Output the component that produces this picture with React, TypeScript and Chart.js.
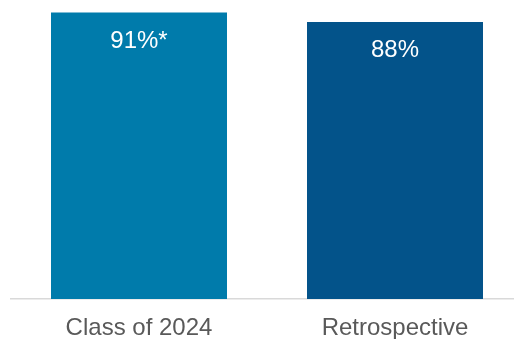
import React, { useEffect, useRef } from "react";
import { Chart, registerables } from "chart.js";

Chart.register(...registerables);

const categories = ["Class of 2024", "Retrospective"];
const values = [91, 88];
const valueLabels = ["91%*", "88%"];
const barColors = ["#007BAB", "#03538A"];

const FONT = "'Liberation Sans', Arial, sans-serif";

const insideLabels = {
  id: "insideLabels",
  afterDatasetsDraw(chart: any) {
    const ctx = chart.ctx;
    const meta = chart.getDatasetMeta(0);
    ctx.save();
    ctx.fillStyle = "#FFFFFF";
    ctx.font = `24px ${FONT}`;
    ctx.textAlign = "center";
    ctx.textBaseline = "alphabetic";
    meta.data.forEach((bar: any, i: number) => {
      ctx.fillText(valueLabels[i], bar.x, bar.y + 35);
    });
    ctx.restore();
  },
};

export default function App() {
  const ref = useRef<HTMLCanvasElement | null>(null);
  useEffect(() => {
    if (!ref.current) return;
    const chart = new Chart(ref.current, {
      type: "bar",
      data: {
        labels: categories,
        datasets: [
          {
            data: values,
            backgroundColor: barColors,
            borderWidth: 0,
            barPercentage: 0.6875,
            categoryPercentage: 1,
          },
        ],
      },
      options: {
        responsive: false,
        animation: false,
        devicePixelRatio: 1,
        layout: { padding: { left: 11, right: 0, top: 0, bottom: 0 } },
        plugins: { legend: { display: false }, tooltip: { enabled: false } },
        scales: {
          x: {
            grid: { display: false, drawTicks: false, tickLength: 0 },
            border: { display: true, color: "#D9D9D9", width: 1.5 },
            ticks: {
              color: "#595959",
              font: { family: FONT, size: 24, lineHeight: 1 },
              padding: 17,
            },
          },
          y: { display: false, min: 0, max: 95 },
        },
      },
      plugins: [insideLabels],
    });
    return () => chart.destroy();
  }, []);
  return (
    <div
      style={{
        position: "fixed",
        left: 0,
        top: 0,
        width: 514,
        height: 339,
        overflow: "hidden",
        background: "#FFFFFF",
      }}
    >
      <canvas ref={ref} width={523} height={357} style={{ display: "block" }} />
    </div>
  );
}
